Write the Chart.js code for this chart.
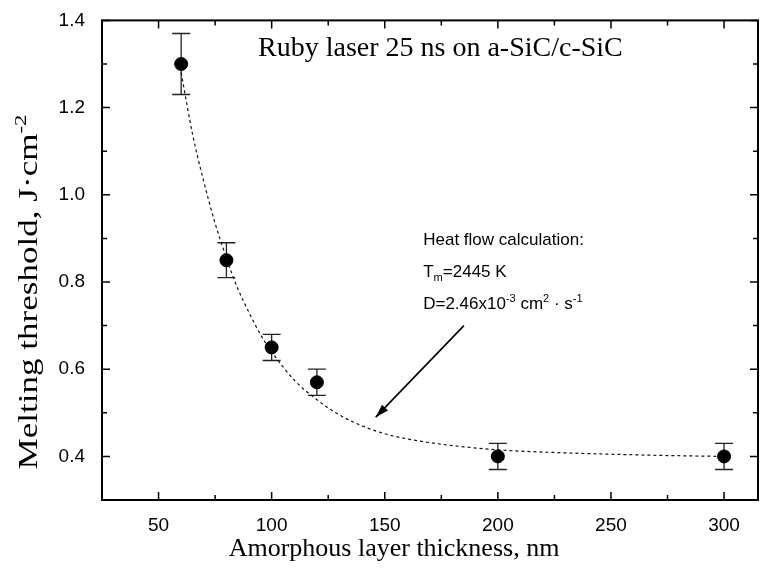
<!DOCTYPE html>
<html>
<head>
<meta charset="utf-8">
<script src="https://cdn.jsdelivr.net/npm/chart.js@4.4.1/dist/chart.umd.min.js"></script>
<style>
  body { margin: 0; background: #fff; }
  #wrap { width: 774px; height: 577px; }
</style>
</head>
<body>
<div id="wrap"><canvas id="chart" width="774" height="577"></canvas></div>
<script>
// measured points with error bars
const thickness = [60, 80, 100, 120, 200, 300];
const threshold = [1.30, 0.85, 0.65, 0.57, 0.40, 0.40];
const errLow = [1.23, 0.81, 0.62, 0.54, 0.37, 0.37];
const errHigh = [1.37, 0.89, 0.68, 0.60, 0.43, 0.43];

// heat flow calculation curve
const fitX = [60, 65, 70, 75, 80, 85, 90, 95, 100, 110, 120, 130, 140, 150, 160, 175, 200, 225, 250, 275, 300];
const fitY = [1.28, 1.14, 1.03, 0.935, 0.855, 0.785, 0.73, 0.68, 0.64, 0.575, 0.53, 0.495, 0.47, 0.452, 0.44, 0.428, 0.415, 0.409, 0.405, 0.402, 0.40];

const xTicks = [25, 50, 75, 100, 125, 150, 175, 200, 225, 250, 275, 300];
const xTickLabels = ['50', '100', '150', '200', '250', '300'];
const yTicks = [0.3, 0.4, 0.5, 0.6, 0.7, 0.8, 0.9, 1.0, 1.1, 1.2, 1.3, 1.4];
const yTickLabels = ['0.4', '0.6', '0.8', '1.0', '1.2', '1.4'];

const SANS = '"Liberation Sans", Arial, sans-serif';
const SERIF = '"Liberation Serif", "Times New Roman", serif';

// draws text pieces in a row, some raised or lowered
function drawRich(ctx, parts, x, y, size, family, align, stretchTo) {
  const widths = parts.map(p => {
    ctx.font = (p.sup || p.sub ? size * 0.65 : size) + 'px ' + family;
    return ctx.measureText(p.t).width;
  });
  const total = widths.reduce((a, b) => a + b, 0);
  const k = stretchTo ? stretchTo / total : 1;
  ctx.save();
  ctx.translate(x, y);
  ctx.scale(k, 1);
  let cx = align === 'center' ? -total / 2 : 0;
  parts.forEach((p, i) => {
    ctx.font = (p.sup || p.sub ? size * 0.65 : size) + 'px ' + family;
    let dy = 0;
    if (p.sup) dy = -size * 0.42;
    if (p.sub) dy = size * 0.25;
    ctx.fillText(p.t, cx, dy);
    cx += widths[i];
  });
  ctx.restore();
}

const errorBars = {
  id: 'errorBars',
  beforeDatasetsDraw(chart) {
    const { ctx, scales: { x, y } } = chart;
    ctx.save();
    ctx.strokeStyle = '#222';
    ctx.lineWidth = 1.3;
    thickness.forEach((t, i) => {
      const px = x.getPixelForValue(t);
      const lo = y.getPixelForValue(errLow[i]);
      const hi = y.getPixelForValue(errHigh[i]);
      ctx.beginPath();
      ctx.moveTo(px, lo); ctx.lineTo(px, hi);
      ctx.moveTo(px - 9, lo); ctx.lineTo(px + 9, lo);
      ctx.moveTo(px - 9, hi); ctx.lineTo(px + 9, hi);
      ctx.stroke();
    });
    ctx.restore();
  }
};

const frame = {
  id: 'frame',
  afterDraw(chart) {
    const { ctx, chartArea: a, scales: { x, y } } = chart;
    ctx.save();
    ctx.strokeStyle = '#000';
    ctx.lineWidth = 2;
    ctx.strokeRect(a.left, a.top, a.right - a.left, a.bottom - a.top);

    ctx.lineWidth = 1.5;
    ctx.beginPath();
    xTicks.forEach(v => {
      const px = x.getPixelForValue(v);
      const len = xTickLabels.includes(String(v)) ? 8 : 5;
      ctx.moveTo(px, a.bottom); ctx.lineTo(px, a.bottom - len);
      ctx.moveTo(px, a.top); ctx.lineTo(px, a.top + len);
    });
    yTicks.forEach(v => {
      const py = y.getPixelForValue(v);
      const len = yTickLabels.includes(v.toFixed(1)) ? 8 : 5;
      ctx.moveTo(a.left, py); ctx.lineTo(a.left + len, py);
      ctx.moveTo(a.right, py); ctx.lineTo(a.right - len, py);
    });
    ctx.stroke();

    // arrow pointing at the curve
    const x0 = x.getPixelForValue(185), y0 = y.getPixelForValue(0.70);
    const x1 = x.getPixelForValue(146), y1 = y.getPixelForValue(0.49);
    ctx.lineWidth = 1.6;
    ctx.beginPath();
    ctx.moveTo(x0, y0); ctx.lineTo(x1, y1);
    ctx.stroke();
    const ang = Math.atan2(y1 - y0, x1 - x0);
    ctx.fillStyle = '#000';
    ctx.beginPath();
    ctx.moveTo(x1, y1);
    ctx.lineTo(x1 - 14 * Math.cos(ang - 0.3), y1 - 14 * Math.sin(ang - 0.3));
    ctx.lineTo(x1 - 14 * Math.cos(ang + 0.3), y1 - 14 * Math.sin(ang + 0.3));
    ctx.closePath();
    ctx.fill();

    // texts
    ctx.fillStyle = '#000';
    ctx.textBaseline = 'alphabetic';
    ctx.textAlign = 'left';
    ctx.font = '28px ' + SERIF;
    ctx.fillText('Ruby laser 25 ns on a-SiC/c-SiC', 258, 56);

    const tx = x.getPixelForValue(167);
    ctx.font = '17px ' + SANS;
    ctx.fillText('Heat flow calculation:', tx, 245);
    drawRich(ctx, [{ t: 'T' }, { t: 'm', sub: true }, { t: '=2445 K' }], tx, 277, 17, SANS, 'left');
    drawRich(ctx, [{ t: 'D=2.46x10' }, { t: '-3', sup: true }, { t: ' cm' }, { t: '2', sup: true },
      { t: ' \u00b7 s' }, { t: '-1', sup: true }], tx, 309, 17, SANS, 'left');

    drawRich(ctx, [{ t: 'Amorphous layer thickness, nm' }], 394, 556, 26, SERIF, 'center');

    ctx.save();
    ctx.translate(37, 292);
    ctx.rotate(-Math.PI / 2);
    drawRich(ctx, [{ t: 'Melting threshold, J\u00b7cm' }, { t: '-2', sup: true }], 0, 0, 27, SERIF, 'center', 355);
    ctx.restore();

    ctx.restore();
  }
};

new Chart(document.getElementById('chart').getContext('2d'), {
  type: 'scatter',
  data: {
    datasets: [{
      type: 'line',
      data: fitX.map((v, i) => ({ x: v, y: fitY[i] })),
      borderColor: '#111',
      borderWidth: 1.2,
      borderDash: [3, 3],
      pointRadius: 0,
      tension: 0.4,
      cubicInterpolationMode: 'monotone',
      fill: false
    }, {
      type: 'scatter',
      data: thickness.map((v, i) => ({ x: v, y: threshold[i] })),
      backgroundColor: '#000',
      borderColor: '#000',
      pointRadius: 6.5
    }]
  },
  options: {
    responsive: false,
    animation: false,
    layout: { padding: { top: 17, right: 16, bottom: 0, left: 0 } },
    plugins: { legend: { display: false }, tooltip: { enabled: false } },
    scales: {
      x: {
        type: 'linear', min: 25, max: 315,
        grid: { display: false }, border: { display: false },
        afterBuildTicks: s => { s.ticks = xTicks.map(v => ({ value: v })); },
        afterFit: s => { s.height = 77; },
        ticks: {
          autoSkip: false, maxRotation: 0, padding: 6, color: '#000',
          font: { family: SANS, size: 19 },
          callback: v => xTickLabels.includes(String(v)) ? String(v) : ''
        }
      },
      y: {
        type: 'linear', min: 0.3, max: 1.4,
        grid: { display: false }, border: { display: false },
        afterBuildTicks: s => { s.ticks = yTicks.map(v => ({ value: v })); },
        afterFit: s => { s.width = 102; },
        ticks: {
          autoSkip: false, padding: 9, color: '#000',
          font: { family: SANS, size: 19 },
          callback: v => yTickLabels.includes(v.toFixed(1)) ? v.toFixed(1) : ''
        }
      }
    }
  },
  plugins: [errorBars, frame]
});
</script>
</body>
</html>
